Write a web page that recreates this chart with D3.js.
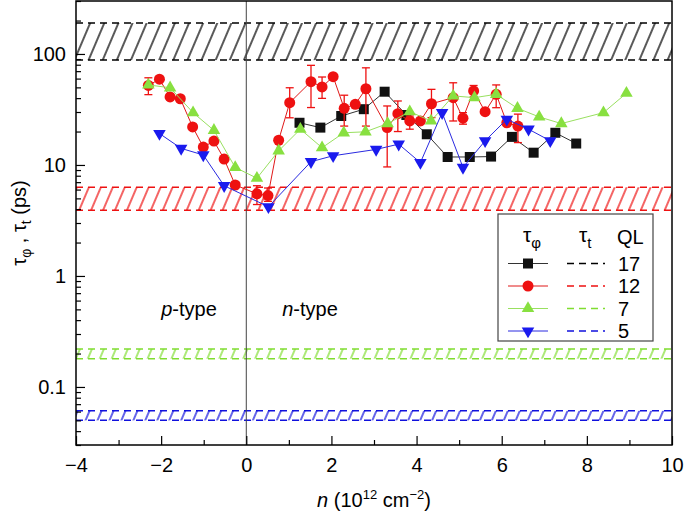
<!DOCTYPE html>
<html><head><meta charset="utf-8">
<script src="https://cdn.jsdelivr.net/npm/d3@7"></script>
<style>
body{margin:0;background:#fff}
text{font-family:"Liberation Sans",Arial,Helvetica,sans-serif;fill:#000}
</style>
</head><body>
<svg id="chart" width="685" height="517"></svg>
<script>
// ---------- data ----------
const ql = ["17", "12", "7", "5"];
const colors = ["#111111", "#ee1111", "#88e040", "#1a1aee"];
const lineColors = ["#333333", "#e01818", "#99e060", "#2a2ae0"];

const nQL17 = [1.25, 1.74, 2.23, 2.76, 3.25, 3.76, 4.24, 4.73, 5.25, 5.75, 6.24, 6.75, 7.26, 7.75];
const tauQL17 = [24.0, 21.7, 27.6, 31.8, 45.7, 28.2, 18.9, 11.8, 11.8, 11.9, 17.9, 12.9, 19.5, 15.6];

const nQL12 = [-2.30, -2.04, -1.79, -1.55, -1.26, -1.01, -0.76, -0.52, -0.26, 0.25, 0.51, 0.76, 1.02, 1.52, 1.78, 2.04, 2.30, 2.56, 2.81, 3.31, 3.56, 3.84, 4.09, 4.35, 4.86, 5.09, 5.34, 5.61, 5.87, 6.12, 6.38];
const tauQL12 = [52, 59.2, 41.0, 39.5, 22.0, 14.5, 16.4, 11.3, 6.6, 5.5, 5.3, 16.7, 36.4, 56.3, 50.5, 62.4, 32.4, 35.2, 48.6, 21.7, 29.0, 24.9, 24.9, 35.6, 40.4, 26.4, 46.4, 30.2, 43.3, 24.0, 22.4];
const errLoQL12 = [43, null, null, null, null, null, null, null, null, 4.4, 4.7, null, 26.6, 32.9, 39.8, null, 22.4, null, 22.4, 9.6, 20.0, 21.0, null, 26.7, 24.9, 23.3, 41, null, 32.8, null, 15.9];
const errHiQL12 = [61, null, null, null, null, null, null, null, null, 6.5, 6.2, null, 49.6, 79, 62, null, 42.5, null, 75, 34, 37.7, 27.6, null, 48, 55, 29.6, 52, null, 52.6, null, 28.7];

const nQL7 = [-2.30, -1.79, -1.25, -0.76, -0.26, 0.25, 0.76, 1.27, 1.78, 2.29, 2.80, 3.32, 3.84, 4.34, 4.86, 5.36, 5.87, 6.37, 6.88, 7.40, 8.39, 8.93];
const tauQL7 = [52.6, 49.6, 29.6, 20.5, 9.5, 7.6, 13.4, 21.0, 14.3, 19.5, 19.9, 23.6, 30.2, 24.9, 41.9, 40.4, 43.3, 32.4, 27.1, 23.6, 29.6, 44.3];

const nQL5 = [-2.04, -1.53, -1.01, -0.52, 0.52, 1.52, 2.04, 3.05, 3.58, 4.09, 4.60, 5.09, 5.61, 6.12, 6.63, 7.14];
const tauQL5 = [19.2, 14.1, 12.3, 6.5, 4.2, 10.7, 12.1, 13.8, 15.4, 10.5, 29.6, 9.5, 16.5, 25.8, 21.0, 16.5];

// transport time bands tau_t (lower, upper), same order as ql
const tauTLow = [88, 3.9, 0.18, 0.050];
const tauTHigh = [190, 6.3, 0.22, 0.061];

const xTicksMajor = [-4, -2, 0, 2, 4, 6, 8, 10];
const xTicksMinor = [-3, -1, 1, 3, 5, 7, 9];
const yTicksMajor = [0.1, 1, 10, 100];
const yTickLabels = ["0.1", "1", "10", "100"];

// ---------- layout ----------
const L = 76, R = 672, T = 1, B = 445;
const svg = d3.select("#chart");
const x = d3.scaleLinear().domain([-4, 10]).range([L, R]);
const y = d3.scaleLog().domain([0.03, 300]).range([B, T]);

const yMinor = [];
[0.01, 0.1, 1, 10, 100].forEach(d => { for (let k = 2; k <= 9; k++) { const v = +(d * k).toPrecision(3); if (v > 0.0299 && v < 301 && !yTicksMajor.includes(v)) yMinor.push(v); } });

const defs = svg.append("defs");
defs.append("clipPath").attr("id", "plotclip").append("rect").attr("x", L).attr("y", T).attr("width", R - L).attr("height", B - T);

// ---------- hatched tau_t bands ----------
const bandColors = ["#000000", "#ee1111", "#80dd30", "#1111dd"];
const bandPeriod = [13, 11, 11, 11];
const bands = svg.append("g").attr("clip-path", "url(#plotclip)");
ql.forEach((q, i) => {
  const pid = "hatch" + i;
  const p = defs.append("pattern").attr("id", pid).attr("patternUnits", "userSpaceOnUse")
    .attr("width", bandPeriod[i]).attr("height", 40).attr("patternTransform", "rotate(23)");
  p.append("line").attr("x1", 1).attr("x2", 1).attr("y1", 0).attr("y2", 40)
    .attr("stroke", bandColors[i]).attr("stroke-width", 1.3);
  const y0 = y(tauTHigh[i]), y1 = y(tauTLow[i]);
  bands.append("rect").attr("x", L).attr("y", y0).attr("width", R - L).attr("height", y1 - y0)
    .attr("fill", `url(#${pid})`);
  [y0, y1].forEach(yy => bands.append("line").attr("x1", L).attr("x2", R).attr("y1", yy).attr("y2", yy)
    .attr("stroke", bandColors[i]).attr("stroke-width", 1.5).attr("stroke-dasharray", "7,5"));
});

// vertical line at n = 0
svg.append("line").attr("x1", x(0)).attr("x2", x(0)).attr("y1", T).attr("y2", B)
  .attr("stroke", "#444").attr("stroke-width", 1);

// ---------- series ----------
const series = [
  { n: nQL17, t: tauQL17, sym: d3.symbolSquare, size: 100, rot: 0 },
  { n: nQL12, t: tauQL12, sym: d3.symbolCircle, size: 95, rot: 0, lo: errLoQL12, hi: errHiQL12 },
  { n: nQL7, t: tauQL7, sym: d3.symbolTriangle, size: 68, rot: 0 },
  { n: nQL5, t: tauQL5, sym: d3.symbolTriangle, size: 68, rot: 180 }
];
const line = d3.line().x(d => x(d[0])).y(d => y(d[1]));
const drawOrder = [0, 1, 2, 3];
drawOrder.forEach(i => {
  const s = series[i];
  const pts = s.n.map((v, j) => [v, s.t[j]]);
  const g = svg.append("g");
  g.append("path").attr("d", line(pts)).attr("fill", "none").attr("stroke", lineColors[i]).attr("stroke-width", 1);
  if (s.lo) {
    s.n.forEach((v, j) => {
      if (s.lo[j] == null) return;
      const xx = x(v), ya = y(s.hi[j]), yb = y(s.lo[j]);
      g.append("line").attr("x1", xx).attr("x2", xx).attr("y1", ya).attr("y2", yb).attr("stroke", colors[i]).attr("stroke-width", 1.3);
      [ya, yb].forEach(yy => g.append("line").attr("x1", xx - 4).attr("x2", xx + 4).attr("y1", yy).attr("y2", yy).attr("stroke", colors[i]).attr("stroke-width", 1.3));
    });
  }
  g.selectAll("path.m").data(pts).join("path").attr("class", "m")
    .attr("d", d3.symbol().type(s.sym).size(s.size))
    .attr("transform", d => `translate(${x(d[0])},${y(d[1])}) rotate(${s.rot})`)
    .attr("fill", colors[i]);
});

// ---------- axes ----------
const fs = 20;
svg.append("g").attr("transform", `translate(0,${B})`)
  .call(d3.axisBottom(x).tickValues(xTicksMajor).tickSize(-9).tickPadding(13));
svg.append("g").attr("transform", `translate(0,${B})`)
  .call(d3.axisBottom(x).tickValues(xTicksMinor).tickSize(-5).tickFormat(""));
svg.append("g").attr("transform", `translate(${L},0)`)
  .call(d3.axisLeft(y).tickValues(yTicksMajor).tickSize(-9).tickPadding(10).tickFormat((d, i) => yTickLabels[i]));
svg.append("g").attr("transform", `translate(${L},0)`)
  .call(d3.axisLeft(y).tickValues(yMinor).tickSize(-5).tickFormat(""));
svg.selectAll(".domain").remove();
svg.selectAll(".tick line").attr("stroke", "#000").attr("stroke-width", 1.2);
svg.selectAll(".tick text").attr("font-size", fs).attr("font-family", "Liberation Sans, Arial, sans-serif");

// frame
svg.append("rect").attr("x", L).attr("y", T).attr("width", R - L).attr("height", B - T)
  .attr("fill", "none").attr("stroke", "#000").attr("stroke-width", 1.5);

// axis titles
const xt = svg.append("text").attr("x", (L + R) / 2).attr("y", 507).attr("text-anchor", "middle").attr("font-size", fs);
xt.append("tspan").attr("font-style", "italic").text("n");
xt.append("tspan").text(" (10");
xt.append("tspan").attr("font-size", 13).attr("dy", -8).text("12");
xt.append("tspan").attr("dy", 8).text(" cm");
xt.append("tspan").attr("font-size", 13).attr("dy", -8).text("\u22122");
xt.append("tspan").attr("dy", 8).text(")");

const yt = svg.append("text").attr("transform", `translate(26,${(T + B) / 2}) rotate(-90)`).attr("text-anchor", "middle").attr("font-size", fs);
yt.append("tspan").text("\u03c4");
yt.append("tspan").attr("font-size", 14).attr("dy", 5).text("\u03c6");
yt.append("tspan").attr("dy", -5).text(" , \u03c4");
yt.append("tspan").attr("font-size", 14).attr("dy", 5).text("t");
yt.append("tspan").attr("dy", -5).text(" (ps)");

// region labels
const pl = svg.append("text").attr("x", 189).attr("y", 316).attr("text-anchor", "middle").attr("font-size", 20);
pl.append("tspan").attr("font-style", "italic").text("p");
pl.append("tspan").text("-type");
const nl = svg.append("text").attr("x", 310).attr("y", 316).attr("text-anchor", "middle").attr("font-size", 20);
nl.append("tspan").attr("font-style", "italic").text("n");
nl.append("tspan").text("-type");

// ---------- legend ----------
const lg = svg.append("g");
lg.append("rect").attr("x", 498).attr("y", 214).attr("width", 155).attr("height", 127)
  .attr("fill", "#fff").attr("stroke", "#444").attr("stroke-width", 1.2);
const h1 = lg.append("text").attr("x", 523).attr("y", 242).attr("font-size", 21);
h1.append("tspan").text("\u03c4");
h1.append("tspan").attr("font-size", 15).attr("dy", 6).text("\u03c6");
const h2 = lg.append("text").attr("x", 579).attr("y", 242).attr("font-size", 21);
h2.append("tspan").text("\u03c4");
h2.append("tspan").attr("font-size", 15).attr("dy", 6).text("t");
lg.append("text").attr("x", 617).attr("y", 244).attr("font-size", 20).text("QL");
const rowY = [263.5, 286, 308.5, 331];
ql.forEach((q, i) => {
  const yy = rowY[i];
  lg.append("line").attr("x1", 508).attr("x2", 548).attr("y1", yy).attr("y2", yy).attr("stroke", lineColors[i]).attr("stroke-width", 1);
  lg.append("path").attr("d", d3.symbol().type(series[i].sym).size(series[i].size)())
    .attr("transform", `translate(528,${yy}) rotate(${series[i].rot})`).attr("fill", colors[i]);
  lg.append("line").attr("x1", 567).attr("x2", 605).attr("y1", yy).attr("y2", yy).attr("stroke", bandColors[i])
    .attr("stroke-width", 1.5).attr("stroke-dasharray", "7,5");
  lg.append("text").attr("x", 618).attr("y", yy + 7).attr("font-size", 20).text(q);
});
</script>
</body></html>
